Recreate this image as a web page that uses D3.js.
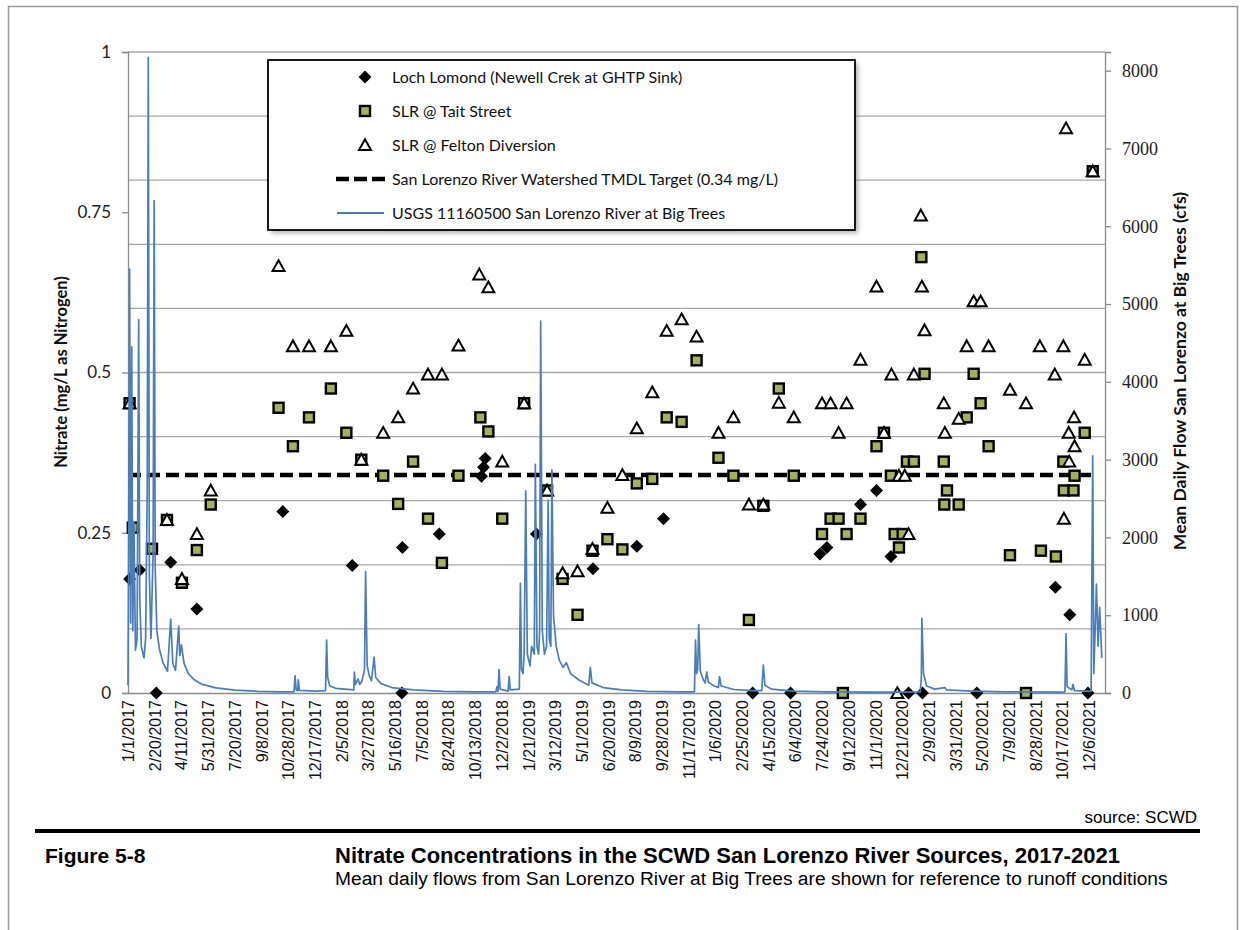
<!DOCTYPE html>
<html><head><meta charset="utf-8">
<script src="https://cdn.jsdelivr.net/npm/d3@7"></script>
<style>body{margin:0;background:#fff}svg{display:block}</style>
</head><body><svg id="chart" width="1242" height="930"></svg>
<script>
// ---------------- DATA ----------------
const xTickLabels = ["1/1/2017","2/20/2017","4/11/2017","5/31/2017","7/20/2017","9/8/2017","10/28/2017","12/17/2017","2/5/2018","3/27/2018","5/16/2018","7/5/2018","8/24/2018","10/13/2018","12/2/2018","1/21/2019","3/12/2019","5/1/2019","6/20/2019","8/9/2019","9/28/2019","11/17/2019","1/6/2020","2/25/2020","4/15/2020","6/4/2020","7/24/2020","9/12/2020","11/1/2020","12/21/2020","2/9/2021","3/31/2021","5/20/2021","7/9/2021","8/28/2021","10/17/2021","12/6/2021"];
const leftTicks = [0, 0.25, 0.5, 0.75, 1];
const gridValues = [0.1, 0.2, 0.3, 0.4, 0.5, 0.6, 0.7, 0.8, 0.9, 1.0];
const rightTicks = [0, 1000, 2000, 3000, 4000, 5000, 6000, 7000, 8000];
const tmdlTarget = 0.34;
const tmdlSpan = ["2017-01-01", "2021-12-13"];
const legendLabels = ["Loch Lomond (Newell Crek at GHTP Sink)", "SLR @ Tait Street", "SLR @ Felton Diversion", "San Lorenzo River Watershed TMDL Target (0.34 mg/L)", "USGS 11160500 San Lorenzo River at Big Trees"];

const lochLomond = [
["2017-01-04",0.178],["2017-01-23",0.192],["2017-02-23",0],["2017-03-22",0.204],["2017-05-10",0.131],
["2017-10-18",0.283],["2018-02-25",0.199],["2018-05-29",0],["2018-05-30",0.227],["2018-08-07",0.248],
["2018-10-25",0.338],["2018-10-29",0.352],["2018-11-01",0.366],["2019-02-05",0.248],["2019-05-22",0.194],
["2019-08-12",0.229],["2019-10-01",0.272],["2020-03-16",0],["2020-05-26",0],["2020-07-20",0.217],
["2020-08-02",0.227],["2020-10-04",0.294],["2020-11-03",0.316],["2020-11-30",0.213],["2021-01-02",0],
["2021-01-28",0],["2021-05-10",0],["2021-10-04",0.165],["2021-10-31",0.122],["2021-12-04",0]
];

const taitStreet = [
["2017-01-04",0.452],["2017-01-10",0.258],["2017-02-15",0.225],["2017-03-15",0.27],["2017-04-12",0.172],
["2017-05-10",0.223],["2017-06-05",0.294],["2017-10-10",0.445],["2017-11-06",0.385],["2017-12-06",0.43],
["2018-01-16",0.475],["2018-02-14",0.406],["2018-03-14",0.364],["2018-04-24",0.339],["2018-05-22",0.295],
["2018-06-19",0.361],["2018-07-17",0.272],["2018-08-12",0.203],["2018-09-12",0.339],["2018-10-23",0.43],
["2018-11-07",0.408],["2018-12-03",0.272],["2019-01-13",0.452],["2019-02-25",0.316],["2019-03-26",0.178],
["2019-04-23",0.122],["2019-05-21",0.222],["2019-06-18",0.24],["2019-07-16",0.224],["2019-08-12",0.327],
["2019-09-10",0.334],["2019-10-07",0.43],["2019-11-04",0.423],["2019-12-02",0.519],["2020-01-12",0.367],
["2020-02-09",0.339],["2020-03-09",0.114],["2020-04-05",0.292],["2020-05-04",0.475],["2020-06-01",0.339],
["2020-07-24",0.248],["2020-08-09",0.272],["2020-08-24",0.272],["2020-09-01",0],["2020-09-08",0.248],
["2020-10-04",0.272],["2020-11-03",0.385],["2020-11-17",0.406],["2020-11-30",0.339],["2020-12-07",0.248],
["2020-12-15",0.227],["2020-12-22",0.248],["2020-12-30",0.361],["2021-01-12",0.361],["2021-01-26",0.68],
["2021-02-01",0.498],["2021-03-09",0.361],["2021-03-10",0.294],["2021-03-15",0.316],["2021-04-06",0.294],
["2021-04-21",0.43],["2021-05-04",0.498],["2021-05-17",0.452],["2021-06-01",0.385],["2021-07-11",0.215],
["2021-08-10",0],["2021-09-07",0.222],["2021-10-05",0.213],["2021-10-19",0.361],["2021-10-20",0.316],
["2021-11-07",0.316],["2021-11-09",0.339],["2021-11-28",0.406],["2021-12-13",0.814]
];

const feltonDiversion = [
["2017-01-04",0.452],["2017-03-15",0.27],["2017-04-12",0.178],["2017-05-10",0.248],["2017-06-05",0.316],
["2017-10-10",0.666],["2017-11-06",0.541],["2017-12-06",0.541],["2018-01-16",0.541],["2018-02-14",0.565],
["2018-03-14",0.364],["2018-04-24",0.406],["2018-05-22",0.43],["2018-06-19",0.475],["2018-07-17",0.497],
["2018-08-12",0.497],["2018-09-12",0.542],["2018-10-21",0.653],["2018-11-07",0.633],["2018-12-03",0.361],
["2019-01-13",0.452],["2019-02-25",0.316],["2019-03-26",0.187],["2019-04-23",0.19],["2019-05-21",0.225],
["2019-06-18",0.289],["2019-07-16",0.34],["2019-08-12",0.413],["2019-09-10",0.469],["2019-10-07",0.565],
["2019-11-04",0.583],["2019-12-02",0.556],["2020-01-12",0.406],["2020-02-09",0.43],["2020-03-09",0.294],
["2020-04-05",0.294],["2020-05-04",0.453],["2020-06-01",0.43],["2020-07-24",0.452],["2020-08-09",0.452],
["2020-08-24",0.406],["2020-09-08",0.452],["2020-10-04",0.52],["2020-11-03",0.634],["2020-11-17",0.406],
["2020-12-01",0.497],["2020-12-12",0],["2020-12-15",0.339],["2020-12-26",0.339],["2021-01-02",0.248],
["2021-01-12",0.497],["2021-01-25",0.745],["2021-01-27",0.634],["2021-02-01",0.566],["2021-03-09",0.452],
["2021-03-11",0.406],["2021-04-06",0.428],["2021-04-21",0.541],["2021-05-04",0.611],["2021-05-17",0.611],
["2021-06-01",0.541],["2021-07-11",0.473],["2021-08-10",0.452],["2021-09-05",0.541],["2021-10-03",0.497],
["2021-10-19",0.541],["2021-10-20",0.272],["2021-10-24",0.881],["2021-10-29",0.406],["2021-10-30",0.361],
["2021-11-08",0.43],["2021-11-09",0.385],["2021-11-28",0.52],["2021-12-13",0.814]
];

const flowCfs = [
["2017-01-01",100],["2017-01-02",1500],["2017-01-04",5450],["2017-01-06",900],["2017-01-08",4450],
["2017-01-10",800],["2017-01-12",2200],["2017-01-15",550],["2017-01-18",700],["2017-01-21",4800],
["2017-01-23",1200],["2017-01-26",600],["2017-01-31",450],["2017-02-03",700],["2017-02-06",2600],
["2017-02-08",8170],["2017-02-10",1500],["2017-02-13",700],["2017-02-17",1800],["2017-02-19",6330],
["2017-02-21",1600],["2017-02-24",800],["2017-03-01",560],["2017-03-08",380],["2017-03-16",280],
["2017-03-22",950],["2017-03-26",380],["2017-03-31",290],["2017-04-06",860],["2017-04-08",480],
["2017-04-11",620],["2017-04-16",380],["2017-04-24",250],["2017-05-05",170],["2017-05-20",110],
["2017-06-15",65],["2017-07-20",38],["2017-09-01",22],["2017-10-15",15],["2017-11-08",15],
["2017-11-10",220],["2017-11-12",40],["2017-11-15",30],["2017-11-16",170],["2017-11-18",35],
["2017-12-20",25],["2018-01-06",30],["2018-01-08",680],["2018-01-10",200],["2018-01-14",90],
["2018-01-25",60],["2018-02-28",40],["2018-03-01",270],["2018-03-03",110],["2018-03-08",180],
["2018-03-11",110],["2018-03-15",150],["2018-03-20",300],["2018-03-22",1560],["2018-03-25",350],
["2018-03-29",220],["2018-04-02",160],["2018-04-07",460],["2018-04-10",200],["2018-04-20",120],
["2018-05-10",70],["2018-06-20",40],["2018-08-15",22],["2018-10-15",15],["2018-11-21",15],
["2018-11-23",80],["2018-11-25",20],["2018-11-27",300],["2018-11-29",50],["2018-12-14",25],
["2018-12-16",210],["2018-12-18",40],["2019-01-04",50],["2019-01-06",1410],["2019-01-08",300],
["2019-01-11",250],["2019-01-13",500],["2019-01-16",2600],["2019-01-19",500],["2019-01-24",350],
["2019-01-27",600],["2019-02-01",500],["2019-02-03",2940],["2019-02-06",600],["2019-02-09",500],
["2019-02-11",800],["2019-02-13",4780],["2019-02-16",800],["2019-02-20",500],["2019-02-24",600],
["2019-02-27",2480],["2019-03-01",700],["2019-03-04",600],["2019-03-06",2870],["2019-03-09",1000],
["2019-03-14",600],["2019-03-20",420],["2019-03-27",330],["2019-04-02",390],["2019-04-10",250],
["2019-04-25",170],["2019-05-14",100],["2019-05-17",330],["2019-05-20",130],["2019-06-10",70],
["2019-07-15",40],["2019-09-01",22],["2019-11-01",15],["2019-11-28",15],["2019-11-30",680],
["2019-12-02",250],["2019-12-04",300],["2019-12-06",880],["2019-12-09",280],["2019-12-14",180],
["2019-12-18",130],["2019-12-21",270],["2019-12-24",140],["2020-01-04",90],["2020-01-12",70],
["2020-01-14",210],["2020-01-17",90],["2020-02-10",45],["2020-03-15",30],["2020-04-02",30],
["2020-04-05",360],["2020-04-08",100],["2020-04-20",50],["2020-06-01",25],["2020-08-01",15],
["2020-11-01",10],["2020-12-15",12],["2021-01-24",15],["2021-01-26",200],["2021-01-27",960],
["2021-01-30",250],["2021-02-05",90],["2021-02-20",50],["2021-03-11",70],["2021-03-14",40],
["2021-05-01",25],["2021-07-01",15],["2021-10-15",10],["2021-10-22",15],["2021-10-24",760],
["2021-10-26",80],["2021-11-04",40],["2021-11-06",110],["2021-11-09",30],["2021-12-10",20],
["2021-12-13",3050],["2021-12-15",250],["2021-12-18",900],["2021-12-20",1400],["2021-12-23",600],
["2021-12-26",1100],["2021-12-30",450]
];

// ---------------- CHART ----------------
const svg = d3.select("#chart");
const parse = d3.timeParse("%Y-%m-%d");
const parseTick = d3.timeParse("%m/%d/%Y");
const fmtTick = d3.timeFormat("%-m/%-d/%Y");
const plot = {left:128, right:1105, top:52, bottom:693};

const x = d3.scaleTime().domain([parse("2017-01-01"), parse("2022-01-05")]).range([plot.left, plot.right]);
const y = d3.scaleLinear().domain([0, 1]).range([plot.bottom, plot.top]);
const y2 = d3.scaleLinear().domain([0, 8240]).range([plot.bottom, plot.top]);

const sansFont = "Lato, 'Open Sans', sans-serif";
const arial = "'Liberation Sans', Arial, sans-serif";

// outer frame
svg.append("rect").attr("x",8.5).attr("y",6.5).attr("width",1229).attr("height",940)
  .attr("fill","none").attr("stroke","#9a9a9a").attr("stroke-width",1.5);

// gridlines
svg.append("g").selectAll("line").data(gridValues).join("line")
  .attr("x1",plot.left).attr("x2",plot.right)
  .attr("y1",d=>y(d)).attr("y2",d=>y(d))
  .attr("stroke","#a8a8a8").attr("stroke-width",1.3);

// left axis
const gL = svg.append("g").attr("transform",`translate(${plot.left},0)`)
  .call(d3.axisLeft(y).tickValues(leftTicks).tickSize(6).tickPadding(11).tickFormat(d3.format("~g")));
gL.select(".domain").attr("stroke","#8c8c8c").attr("stroke-width",1.3);
gL.selectAll(".tick line").attr("stroke","#8c8c8c").attr("stroke-width",1.3);
gL.selectAll("text").attr("font-family",sansFont).attr("font-size",17).attr("fill","#222");

// right axis
const gR = svg.append("g").attr("transform",`translate(${plot.right},0)`)
  .call(d3.axisRight(y2).tickValues(rightTicks).tickSize(6).tickPadding(11).tickFormat(d3.format("d")));
gR.select(".domain").attr("stroke","#8c8c8c").attr("stroke-width",1.3);
gR.selectAll(".tick line").attr("stroke","#8c8c8c").attr("stroke-width",1.3);
gR.selectAll("text").attr("font-family","'Liberation Serif', serif").attr("font-size",18).attr("fill","#222");

// bottom axis
const gB = svg.append("g").attr("transform",`translate(0,${plot.bottom})`)
  .call(d3.axisBottom(x).tickValues(xTickLabels.map(parseTick)).tickSize(0).tickFormat(fmtTick));
gB.select(".domain").attr("stroke","#8c8c8c").attr("stroke-width",1.5);
gB.selectAll("text").attr("transform","rotate(-90)").attr("text-anchor","end")
  .attr("x",-7).attr("y",0).attr("dy","0.35em")
  .attr("font-family",arial).attr("font-size",16).attr("fill","#111");

// TMDL target line
svg.append("line")
  .attr("x1",x(parse(tmdlSpan[0]))).attr("x2",x(parse(tmdlSpan[1])))
  .attr("y1",y(tmdlTarget)).attr("y2",y(tmdlTarget))
  .attr("stroke","#000").attr("stroke-width",4.5).attr("stroke-dasharray","13,6");

// markers
const diamondPath = "M0,-6.5L6.5,0L0,6.5L-6.5,0Z";
const trianglePath = "M0,-5.8L6,5L-6,5Z";
const oliveFill = "#a5b05a";

svg.append("g").selectAll("path").data(lochLomond).join("path")
  .attr("d",diamondPath)
  .attr("transform",d=>`translate(${x(parse(d[0]))},${y(d[1])})`)
  .attr("fill","#000");

svg.append("g").selectAll("rect").data(taitStreet).join("rect")
  .attr("x",d=>x(parse(d[0]))-5).attr("y",d=>y(d[1])-5)
  .attr("width",10).attr("height",10)
  .attr("fill",oliveFill).attr("stroke","#000").attr("stroke-width",2.4);

svg.append("g").selectAll("path").data(feltonDiversion).join("path")
  .attr("d",trianglePath)
  .attr("transform",d=>`translate(${x(parse(d[0]))},${y(d[1])})`)
  .attr("fill","#fff").attr("stroke","#000").attr("stroke-width",2);

// flow line (secondary axis)
const flowLine = d3.line().x(d=>x(parse(d[0]))).y(d=>y2(d[1]));
svg.append("path").datum(flowCfs).attr("d",flowLine)
  .attr("fill","none").attr("stroke","#4a7ebb").attr("stroke-width",1.7).attr("stroke-linejoin","round");

// axis titles
svg.append("text").attr("transform","translate(61,372) rotate(-90)")
  .attr("text-anchor","middle").attr("dy","0.35em")
  .attr("font-family",sansFont).attr("font-weight","bold").attr("font-size",16.5).attr("fill","#111")
  .text("Nitrate (mg/L as Nitrogen)");
svg.append("text").attr("transform","translate(1180,371) rotate(-90)")
  .attr("text-anchor","middle").attr("dy","0.35em")
  .attr("font-family",sansFont).attr("font-weight","bold").attr("font-size",17.5).attr("fill","#111")
  .text("Mean Daily Flow San Lorenzo at Big Trees (cfs)");

// legend
const defs = svg.append("defs");
const f = defs.append("filter").attr("id","shadow").attr("x","-5%").attr("y","-5%").attr("width","115%").attr("height","125%");
f.append("feGaussianBlur").attr("stdDeviation",2.5);
const lg = svg.append("g");
lg.append("rect").attr("x",271).attr("y",63).attr("width",587).attr("height",170)
  .attr("fill","#777").attr("opacity",0.6).attr("filter","url(#shadow)");
lg.append("rect").attr("x",268).attr("y",60).attr("width",587).attr("height",170)
  .attr("fill","#fff").attr("stroke","#000").attr("stroke-width",1.8);
const rowY = [77,111,145,179,213];
lg.append("path").attr("d",diamondPath).attr("transform",`translate(365,${rowY[0]})`).attr("fill","#000");
lg.append("rect").attr("x",360).attr("y",rowY[1]-5).attr("width",10).attr("height",10)
  .attr("fill",oliveFill).attr("stroke","#000").attr("stroke-width",2.4);
lg.append("path").attr("d",trianglePath).attr("transform",`translate(365,${rowY[2]})`)
  .attr("fill","#fff").attr("stroke","#000").attr("stroke-width",2);
lg.append("line").attr("x1",336).attr("x2",385).attr("y1",rowY[3]).attr("y2",rowY[3])
  .attr("stroke","#000").attr("stroke-width",4.5).attr("stroke-dasharray","13,5");
lg.append("line").attr("x1",337).attr("x2",384).attr("y1",rowY[4]).attr("y2",rowY[4])
  .attr("stroke","#4a7ebb").attr("stroke-width",1.8);
lg.selectAll("text.lbl").data(legendLabels).join("text").attr("class","lbl")
  .attr("x",392).attr("y",(d,i)=>rowY[i]).attr("dy","0.35em")
  .attr("font-family",sansFont).attr("font-size",16).attr("fill","#111").text(d=>d);

// footer
svg.append("text").attr("x",1197).attr("y",823).attr("text-anchor","end")
  .attr("font-family",arial).attr("font-size",17).attr("fill","#000").text("source: SCWD");
svg.append("line").attr("x1",35).attr("x2",1200).attr("y1",831).attr("y2",831)
  .attr("stroke","#000").attr("stroke-width",4);
svg.append("text").attr("x",45).attr("y",863)
  .attr("font-family",arial).attr("font-weight","bold").attr("font-size",21).attr("fill","#000").text("Figure 5-8");
svg.append("text").attr("x",335).attr("y",863)
  .attr("font-family",arial).attr("font-weight","bold").attr("font-size",22).attr("fill","#000")
  .text("Nitrate Concentrations in the SCWD San Lorenzo River Sources, 2017-2021");
svg.append("text").attr("x",335).attr("y",885)
  .attr("font-family",arial).attr("font-size",19.2).attr("fill","#000")
  .text("Mean daily flows from San Lorenzo River at Big Trees are shown for reference to runoff conditions");
</script></body></html>
